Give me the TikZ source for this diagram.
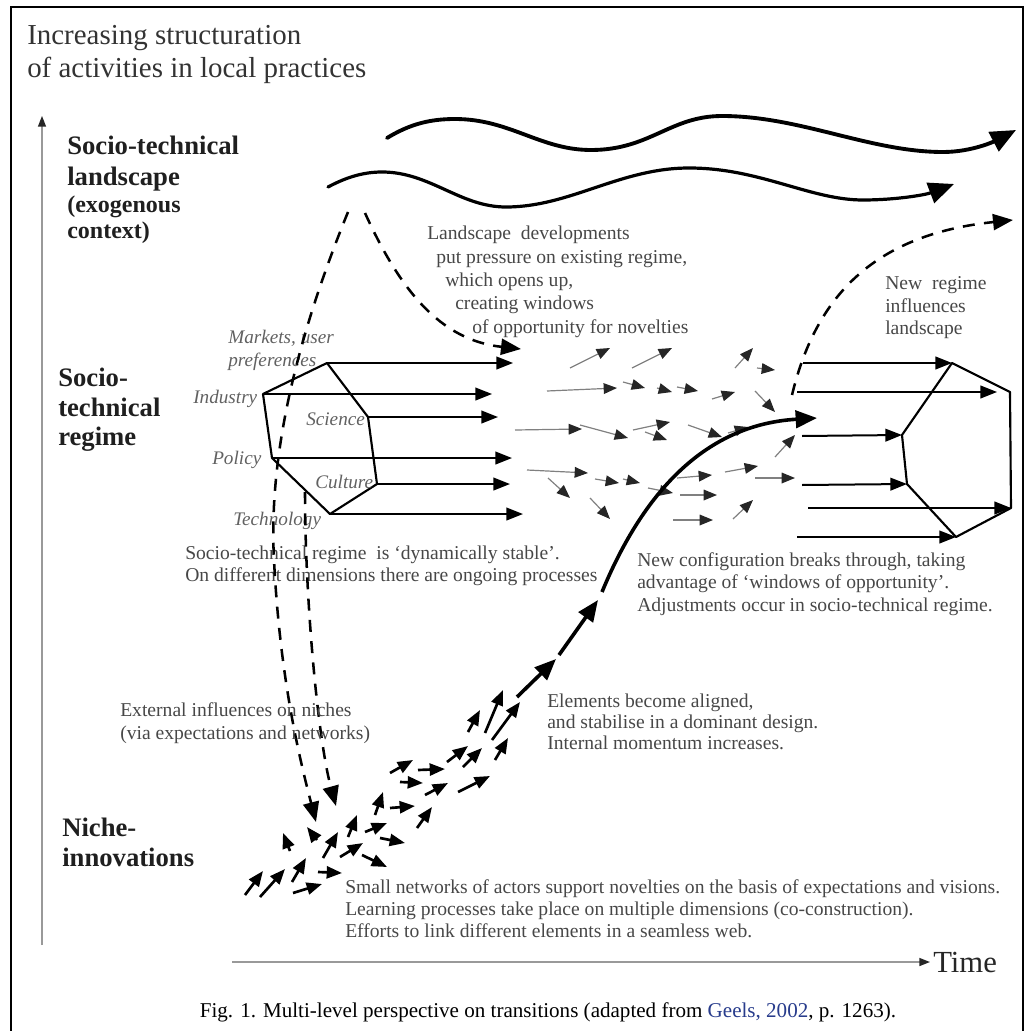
\documentclass[tikz,border=0pt]{standalone}
\usepackage{fontspec}
\setmainfont{Liberation Serif}
\usetikzlibrary{arrows.meta}
\definecolor{citeblue}{RGB}{40,60,140}
\begin{document}
\begin{tikzpicture}[x=0.75pt,y=-0.75pt,
  body/.style={anchor=base west, inner sep=0pt, text=black!72, font=\fontsize{14.7}{17}\selectfont},
  dimlabel/.style={anchor=base west, inner sep=0pt, text=black!62, font=\fontsize{14.4}{16}\selectfont\itshape},
  levellabel/.style={anchor=base west, inner sep=0pt, text=black!88, font=\fontsize{20}{24}\selectfont\bfseries},
  levelsub/.style={anchor=base west, inner sep=0pt, text=black!88, font=\fontsize{18}{21}\selectfont\bfseries},
  wave/.style={line width=2.9pt, line cap=round, -{Triangle[length=19pt,width=16pt]}},
  dashlink/.style={line width=1.9pt, dash pattern=on 9pt off 7pt, -{Triangle[length=15pt,width=12pt]}},
  hexedge/.style={line width=1.6pt, line join=round},
  regarrow/.style={line width=1.5pt, -{Triangle[length=12.5pt,width=9.5pt]}},
  flux/.style={line width=0.9pt, draw=black!50, -{Triangle[length=10pt,width=8pt,color=black!85]}},
  niche/.style={line width=2pt, -{Triangle[length=11.5pt,width=9pt]}},
  mainpath/.style={line width=2.7pt, -{Triangle[length=16pt,width=13pt]}},
  axis/.style={line width=1.1pt, draw=black!40, -{Triangle[length=8pt,width=6pt,color=black!85]}}
]
\useasboundingbox (0,0) rectangle (1032,1031);

% frame
\draw[line width=1.5pt] (11,1031) -- (11,7) -- (1023,7) -- (1023,1031);

% title and axes
\node[anchor=base west, inner sep=0pt, text=black!80, font=\fontsize{21.7}{25}\selectfont] (title1) at (27,45) {Increasing structuration};
\node[anchor=base west, inner sep=0pt, text=black!80, font=\fontsize{21.7}{25}\selectfont] (title2) at (27,78) {of activities in local practices};
\coordinate (vbot) at (42,945);
\coordinate (vtop) at (42,116);
\draw[axis] (vbot) -- (vtop);
\coordinate (tleft) at (232,962);
\coordinate (tright) at (930,962);
\draw[axis] (tleft) -- (tright);
\node[anchor=base west, inner sep=0pt, font=\fontsize{23}{26}\selectfont, text=black!85] (time) at (933,972) {Time};

% level labels
\node[levellabel] (land1) at (67,154) {Socio-technical};
\node[levellabel] (land2) at (67,185) {landscape};
\node[levelsub] (land3) at (67,212) {(exogenous};
\node[levelsub] (land4) at (67,238) {context)};
\node[levellabel] (reg1) at (58,386) {Socio-};
\node[levellabel] (reg2) at (58,416) {technical};
\node[levellabel] (reg3) at (58,445) {regime};
\node[levellabel] (niche1) at (62,836) {Niche-};
\node[levellabel] (niche2) at (62,866) {innovations};

% landscape waves
\draw[wave] (387,138) .. controls (410,124) and (430,119) .. (455,119)
  .. controls (510,119) and (540,150) .. (591,150)
  .. controls (650,150) and (670,116) .. (722,116)
  .. controls (800,116) and (870,152) .. (943,152)
  .. controls (972,152) and (995,141) .. (1016,130);
\draw[wave, line width=2.4pt] (328,187) .. controls (345,178) and (362,172) .. (382,172)
  .. controls (430,172) and (460,207) .. (506,207)
  .. controls (570,207) and (620,168) .. (689,168)
  .. controls (760,168) and (810,200) .. (863,200)
  .. controls (895,200) and (925,195) .. (954,184);

% landscape pressure on regime
\node[body] (lp1) at (427,239) {Landscape\ \ developments};
\node[body] (lp2) at (436,263) {put pressure on existing regime,};
\node[body] (lp3) at (445,286) {which opens up,};
\node[body] (lp4) at (455,309) {creating windows};
\node[body] (lp5) at (472,333) {of opportunity for novelties};
\draw[dashlink] (365,213) .. controls (400,290) and (440,340) .. (521,349);

% regime hexagon (left)
\coordinate (hmk) at (327,363);
\coordinate (hsc) at (368,417);
\coordinate (hcu) at (377,484);
\coordinate (hte) at (330,514);
\coordinate (hpo) at (272,458);
\coordinate (hin) at (263,394);
\draw[hexedge] (hmk) -- (hsc) -- (hcu) -- (hte) -- (hpo) -- (hin) -- cycle;
\draw[regarrow] (hmk) -- (513,363);
\draw[regarrow] (hin) -- (492,394);
\draw[regarrow] (hsc) -- (498,417);
\draw[regarrow] (hpo) -- (512,458);
\draw[regarrow] (hcu) -- (510,484);
\draw[regarrow] (hte) -- (523,514);

\node[dimlabel] (mk1) at (228,343) {Markets, user};
\node[dimlabel] (mk2) at (228,366) {preferences};
\node[dimlabel] (ind) at (193,403) {Industry};
\node[dimlabel] (sci) at (306,425) {Science};
\node[dimlabel] (pol) at (212,464) {Policy};
\node[dimlabel] (cul) at (315,488) {Culture};
\node[dimlabel] (tec) at (233,525) {Technology};

% ongoing processes in the regime
\foreach \xa/\ya/\xb/\yb in {570/368/610/348, 632/368/672/348, 735/368/753/348, 757/368/775/370,
  547/391/617/388, 623/382/645/388, 657/388/672/392, 677/387/698/391, 712/399/735/392, 755/391/775/412,
  515/430/582/429, 580/425/628/438, 633/430/670/422, 645/432/667/440, 688/425/722/437,
  527/470/588/473, 548/478/570/498, 595/479/619/483, 623/479/640/483, 590/498/610/519,
  648/488/673/493, 677/478/712/475, 680/495/717/495, 673/520/713/520, 725/472/758/466,
  733/519/753/500, 755/478/795/478, 775/457/795/435, 728/433/748/427}
  \draw[flux] (\xa,\ya) -- (\xb,\yb);

% regime text
\node[body] (st1) at (185,559) {Socio-technical regime\ \ is ‘dynamically stable’.};
\node[body] (st2) at (185,581) {On different dimensions there are ongoing processes};

% external influences on niches
\draw[dashlink] (348,212) .. controls (300,330) and (268,450) .. (274,560)
  .. controls (280,680) and (300,760) .. (316,822);
\draw[dashlink] (305,492) .. controls (305,600) and (318,740) .. (336,806);
\node[body] (ext1) at (120,716) {External influences on niches};
\node[body] (ext2) at (120,739) {(via expectations and networks)};

% niche activity
\foreach \xa/\ya/\xb/\yb in {245/895/263/871, 260/897/285/869, 292/882/306/858, 293/893/322/884,
  318/872/342/873, 323/858/338/832, 340/857/363/843, 362/855/387/867, 290/851/283/833,
  317/840/307/827, 348/837/357/815, 365/832/387/823, 380/838/405/843, 375/815/383/792,
  390/808/415/806, 417/828/432/807, 425/795/448/783, 400/782/423/783, 390/773/413/760,
  418/770/445/769, 458/792/490/776, 447/762/468/746, 463/767/482/748, 495/760/508/738,
  468/732/480/710, 485/733/503/690, 492/740/520/702}
  \draw[niche] (\xa,\ya) -- (\xb,\yb);

% breakthrough trajectory
\coordinate (m0) at (517,697);
\coordinate (m1) at (556,659);
\coordinate (m2) at (559,655);
\coordinate (m3) at (598,600);
\coordinate (m4) at (602,592);
\coordinate (m5) at (817,418);
\draw[mainpath] (m0) -- (m1);
\draw[mainpath] (m2) -- (m3);
\draw[mainpath] (m4) .. controls (640,500) and (700,425) .. (m5);

\node[body] (el1) at (547,707) {Elements become aligned,};
\node[body] (el2) at (547,728) {and stabilise in a dominant design.};
\node[body] (el3) at (547,749) {Internal momentum increases.};

\node[body] (sm1) at (345,893) {Small networks of actors support novelties on the basis of expectations and visions.};
\node[body] (sm2) at (345,915) {Learning processes take place on multiple dimensions (co-construction).};
\node[body] (sm3) at (345,937) {Efforts to link different elements in a seamless web.};

\node[body] (nc1) at (637,566) {New configuration breaks through, taking};
\node[body] (nc2) at (637,588) {advantage of ‘windows of opportunity’.};
\node[body] (nc3) at (637,611) {Adjustments occur in socio-technical regime.};

% new regime (right hexagon)
\coordinate (rt) at (952,363);
\coordinate (rru) at (1010,392);
\coordinate (rrl) at (1011,508);
\coordinate (rb) at (956,537);
\coordinate (rll) at (907,484);
\coordinate (rlu) at (902,435);
\draw[hexedge] (rt) -- (rru) -- (rrl) -- (rb) -- (rll) -- (rlu) -- cycle;
\draw[regarrow] (803,363) -- (rt);
\draw[regarrow] (797,392) -- (997,392);
\draw[regarrow] (802,436) -- (rlu);
\draw[regarrow] (802,485) -- (rll);
\draw[regarrow] (808,508) -- (rrl);
\draw[regarrow] (797,537) -- (rb);

% new regime feeds back on the landscape
\draw[dashlink] (792,395) .. controls (815,300) and (870,235) .. (1013,220);
\node[body] (nr1) at (885,289) {New\ \ regime};
\node[body] (nr2) at (885,312) {influences};
\node[body] (nr3) at (885,334) {landscape};

% caption
\node[anchor=base, inner sep=0pt, font=\fontsize{15.8}{18}\selectfont] (cap) at (548,1017)
  {Fig. 1. Multi-level perspective on transitions (adapted from \textcolor{citeblue}{Geels, 2002}, p. 1263).};
\end{tikzpicture}
\end{document}
